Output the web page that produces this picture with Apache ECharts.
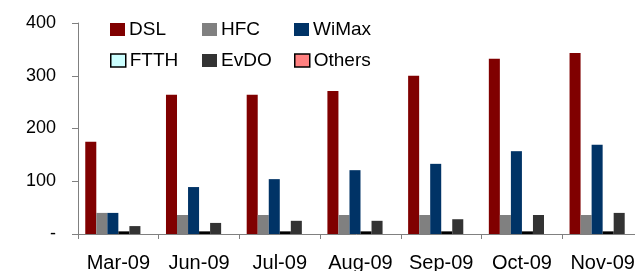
<!DOCTYPE html>
<html><head><meta charset="utf-8">
<script src="https://cdn.jsdelivr.net/npm/echarts@6/dist/echarts.min.js"></script>
<style>html,body{margin:0;padding:0;background:#fff;overflow:hidden}
#c{width:635px;height:271px}</style>
</head><body><div id="c"></div>
<script>
var categories = ['Mar-09','Jun-09','Jul-09','Aug-09','Sep-09','Oct-09','Nov-09'];
var dsl   = [175, 264, 264, 271, 300, 332, 343];
var hfc   = [40, 36, 36, 36, 36, 36, 36];
var wimax = [40, 89, 104, 121, 133, 157, 169];
var ftth  = [5, 5, 5, 5, 5, 5, 5];
var evdo  = [15, 21, 25, 25, 28, 36, 40];
var others = [0, 0, 0, 0, 0, 0, 0];
var yTicks = [0, 100, 200, 300, 400];

var font = 'Liberation Sans, Arial, sans-serif';
function lg(name, left, top, extra){
  var d = {name:name};
  if (extra) d.itemStyle = extra;
  return {data:[d], left:left, top:top, itemWidth:15, itemHeight:13, itemGap:0,
    padding:0, selectedMode:false, icon:'rect',
    textStyle:{fontFamily:font, fontSize:19, color:'#000', padding:[0,0,8,-1]}};
}
var chart = echarts.init(document.getElementById('c'), null, {renderer:'canvas'});
chart.setOption({
  animation:false,
  grid:{left:78, right:-8, top:23, bottom:37, containLabel:false, outerBoundsMode:'none'},
  legend:[
    lg('DSL',110,20), lg('HFC',202,20), lg('WiMax',294,20),
    lg('FTTH',110,51,{borderColor:'#000',borderWidth:1.5}),
    lg('EvDO',202,51),
    lg('Others',294,51,{borderColor:'#000',borderWidth:1.5})
  ],
  xAxis:{type:'category', data:categories,
    axisLine:{lineStyle:{color:'#808080', width:1}},
    axisTick:{show:true, length:5, lineStyle:{color:'#808080'}},
    axisLabel:{fontFamily:font, fontSize:20, color:'#000', margin:19, interval:0, hideOverlap:false}},
  yAxis:{type:'value', min:0, max:400, interval:100,
    axisLine:{show:true, lineStyle:{color:'#808080', width:1}},
    axisTick:{show:true, length:6, lineStyle:{color:'#808080'}},
    splitLine:{show:false},
    axisLabel:{fontFamily:font, fontSize:18, color:'#000', margin:22,
      formatter:function(v){return v===0?'-':String(v);}}},
  series:[
    {name:'DSL', type:'bar', data:dsl, itemStyle:{color:'#800000'}, barGap:'0%', barCategoryGap:'18%'},
    {name:'HFC', type:'bar', data:hfc, itemStyle:{color:'#808080'}},
    {name:'WiMax', type:'bar', data:wimax, itemStyle:{color:'#003366'}},
    {name:'FTTH', type:'bar', data:ftth, itemStyle:{color:'#CCFFFF', borderColor:'#000', borderWidth:1.5}},
    {name:'EvDO', type:'bar', data:evdo, itemStyle:{color:'#333333'}},
    {name:'Others', type:'bar', data:others, itemStyle:{color:'#FF8080', borderWidth:0}}
  ]
});
</script></body></html>
